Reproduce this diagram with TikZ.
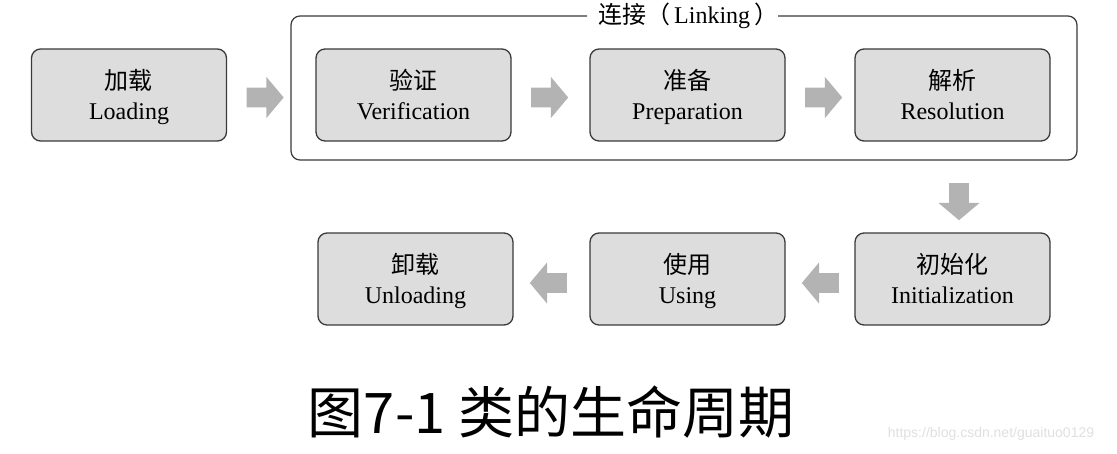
\documentclass[tikz,border=0pt]{standalone}
\usepackage{fontspec}
\setmainfont{Liberation Serif}
\newfontfamily\cjk{Noto Sans CJK SC}
\newfontfamily\wmfont{Liberation Sans}
\usetikzlibrary{shapes.arrows}
\definecolor{boxfill}{HTML}{DDDDDD}
\definecolor{boxline}{HTML}{3A3A3A}
\definecolor{arrowgray}{HTML}{B3B3B3}
\newcommand\stagetext[2]{\rule{0pt}{24pt}{\cjk #1}\\#2\rule[-6pt]{0pt}{6pt}}
\begin{document}
\begin{tikzpicture}[x=1pt,y=-1pt,
  stage/.style={draw=boxline, line width=1.3pt, fill=boxfill, rounded corners=9pt,
    minimum width=195pt, minimum height=92pt, inner sep=0pt, align=center,
    font=\fontsize{24}{30}\selectfont},
  blockarrow/.style={single arrow, fill=arrowgray, draw=none, inner xsep=0pt,
    inner ysep=9.75pt, minimum width=0pt, minimum height=37pt,
    single arrow head extend=10.75pt, single arrow tip angle=100},
  frame/.style={draw=boxline, line width=1.2pt, rounded corners=9pt}]
\useasboundingbox (0,0) rectangle (1117,453);
\fill[white] (0,0) rectangle (1117,453);

% Linking frame
\draw[frame] (587,16) -- (291,16) -- (291,160) -- (1077,160) -- (1077,16) -- (778,16);
\node[anchor=base west, inner sep=0pt, font=\fontsize{24}{28}\selectfont] (linklabel) at (598,23.5)
  {{\cjk 连接（}\hspace{4pt}Linking\hspace{4pt}{\cjk ）}};

% stages
\node[stage] (load) at (129,95) {\stagetext{加载}{Loading}};
\node[stage] (ver) at (413.5,95) {\stagetext{验证}{Verification}};
\node[stage] (prep) at (687.5,95) {\stagetext{准备}{Preparation}};
\node[stage] (res) at (952.5,95) {\stagetext{解析}{Resolution}};
\node[stage] (init) at (952.5,279) {\stagetext{初始化}{Initialization}};
\node[stage] (use) at (687.5,279) {\stagetext{使用}{Using}};
\node[stage] (unload) at (415.5,279) {\stagetext{卸载}{Unloading}};

% block arrows
\node[blockarrow] (a1) at (261,97.5) {};
\node[blockarrow] (a2) at (545.5,97.5) {};
\node[blockarrow] (a3) at (819.5,97.5) {};
\node[blockarrow, rotate=-90] (a4) at (959,197.5) {};
\node[blockarrow, rotate=180] (a5) at (824.5,283) {};
\node[blockarrow, rotate=180] (a6) at (552.5,283) {};

% caption
\node[font=\cjk\fontsize{56}{60}\selectfont, inner sep=0pt] (caption) at (551,412) {图7-1 类的生命周期};

% watermark
\node[font=\wmfont\fontsize{14}{16}\selectfont, text=black!12, inner sep=0pt] (wm) at (991,434) {https://blog.csdn.net/guaituo0129};
\end{tikzpicture}
\end{document}
